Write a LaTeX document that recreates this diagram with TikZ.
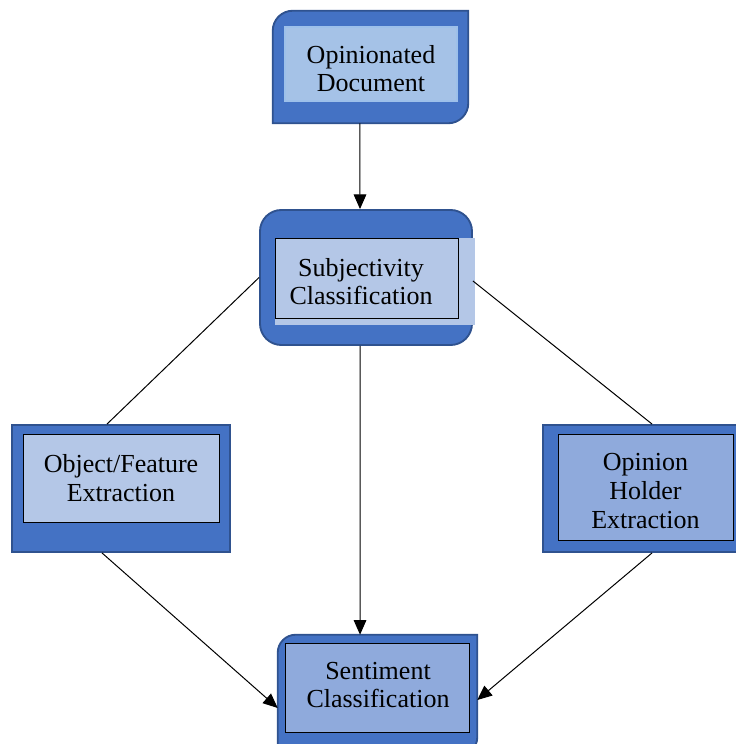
\documentclass[tikz,border=0pt]{standalone}
\usepackage{fontspec}
\setmainfont{Liberation Serif}
\usepackage{tikz}
\usetikzlibrary{arrows.meta}
\definecolor{boxblue}{HTML}{4472C4}
\definecolor{edgeblue}{HTML}{2F528F}
\definecolor{paleblue}{HTML}{B4C7E7}
\definecolor{midblue}{HTML}{8FAADC}
\definecolor{docfill}{HTML}{A5C2E7}
\definecolor{docedge}{HTML}{9DC0EA}

\begin{document}
\begin{tikzpicture}[x=0.75pt,y=0.75pt]
	\useasboundingbox (0,0) rectangle (736,744);
	\tikzstyle{outer}=[draw=edgeblue,line width=1.4pt,fill=boxblue]
	\tikzstyle{shell}=[rectangle,inner sep=0pt]
	\tikzstyle{inner}=[rectangle,draw=black,line width=0.6pt,inner sep=0pt]
	\tikzstyle{label}=[align=center,inner sep=0pt,font=\fontsize{19.5}{21.5}\selectfont]
	\tikzstyle{link}=[line width=0.75pt]
	\tikzstyle{arrow}=[link,-{Triangle[length=11pt,width=9.5pt]}]
	% outer boxes
	\node[shell,minimum width=146.25pt,minimum height=84pt](doc) at (370.5,677) {};
	\draw[outer] (doc.south west) -- ([yshift=-15pt]doc.north west) arc[start angle=180,end angle=90,radius=15pt] -- (doc.north east) -- ([yshift=15pt]doc.south east) arc[start angle=0,end angle=-90,radius=15pt] -- cycle;
	\node[outer,shell,rounded corners=16pt,minimum width=159pt,minimum height=101.25pt](subj) at (366,466.5) {};
	\node[outer,shell,minimum width=163.5pt,minimum height=95.25pt](obj) at (121,255.5) {};
	\node[outer,shell,minimum width=147.75pt,minimum height=95.25pt](holder) at (641.5,255.5) {};
	\node[shell,minimum width=149.25pt,minimum height=90pt](sent) at (377.5,49) {};
	\draw[outer] (sent.south west) -- ([yshift=-13.5pt]sent.north west) arc[start angle=180,end angle=90,radius=13.5pt] -- (sent.north east) -- ([yshift=13.5pt]sent.south east) arc[start angle=0,end angle=-90,radius=13.5pt] -- cycle;
	% inner boxes
	\node[inner,draw=docedge,line width=1.5pt,fill=docfill,minimum width=129pt,minimum height=55.5pt](docin) at (371,680) {};
	\fill[paleblue] (275,419) rectangle (475,506);
	\node[inner,minimum width=137.25pt,minimum height=60pt](subjin) at (366.5,466) {};
	\node[inner,fill=paleblue,minimum width=147pt,minimum height=66pt](objin) at (121,266) {};
	\node[inner,fill=midblue,minimum width=131.25pt,minimum height=79.5pt](holderin) at (645.5,257) {};
	\node[inner,fill=midblue,minimum width=138pt,minimum height=66.75pt](sentin) at (377,56.5) {};
	% texts
	\node[label](doctext) at (371,675.5) {Opinionated\\Document};
	\node[label](subjtext) at (361,462.5) {Subjectivity\\Classification};
	\node[label](objtext) at (121,266) {Object/Feature\\Extraction};
	\node[label](holdertext) at (645.5,253) {Opinion\\Holder\\Extraction};
	\node[label](senttext) at (378,59) {Sentiment\\Classification};
	% connectors
	\draw[arrow] ([xshift=-7.9pt]doc.south) -- ([xshift=-4.5pt]subj.north);
	\draw[link] (subj.west) -- ([xshift=-10.5pt]obj.north);
	\draw[link] ([yshift=-2.6pt]subj.east) -- ([xshift=7.9pt]holder.north);
	\draw[arrow] ([xshift=-4.5pt]subj.south) -- ([xshift=-13.1pt]sent.north);
	\draw[arrow] ([xshift=-14.25pt]obj.south) -- ([yshift=-9.75pt]sent.west);
	\draw[arrow] ([xshift=7.9pt]holder.south) -- ([yshift=-3.75pt]sent.east);
\end{tikzpicture}
\end{document}
